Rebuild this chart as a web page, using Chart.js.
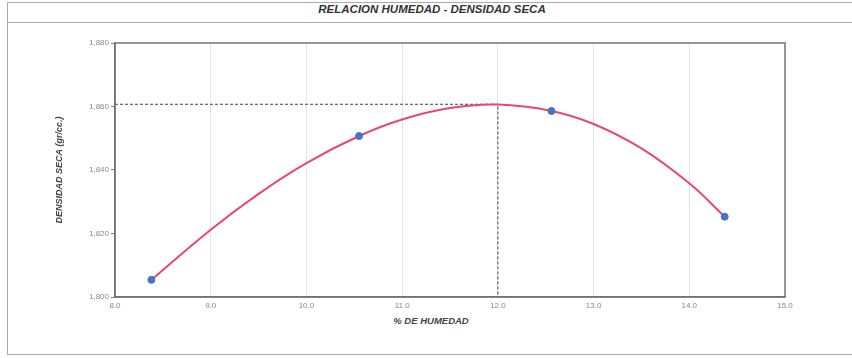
<!DOCTYPE html>
<html>
<head>
<meta charset="utf-8">
<script src="https://cdn.jsdelivr.net/npm/chart.js@4"></script>
<style>
  body { margin: 0; background: #fff; }
  #wrap { position: relative; width: 852px; height: 358px; overflow: hidden; }
  #marco { position: absolute; left: 7px; top: 2px; width: 860px; height: 351px;
           border-left: 1.5px solid #aaa; border-top: 1.5px solid #aaa; border-bottom: 1.5px solid #aaa; }
  #cabecera { position: absolute; left: 0; top: 0; width: 100%; height: 19px; border-bottom: 1.5px solid #aaa; }
  #titulo { position: absolute; left: 0; top: 3px; width: 864px; text-align: center;
            font: italic bold 11.5px "Liberation Sans", Arial, sans-serif; color: #333; }
  #tituloX { position: absolute; left: 0; top: 315px; width: 862px; text-align: center;
             font: italic bold 9.5px "Liberation Sans", Arial, sans-serif; color: #444; }
  canvas { position: absolute; left: 0; top: 0; }
</style>
</head>
<body>
<div id="wrap">
  <div id="marco"><div id="cabecera"></div></div>
  <div id="titulo">RELACION HUMEDAD - DENSIDAD SECA</div>
  <div id="tituloX">% DE HUMEDAD</div>
  <canvas id="grafico" width="852" height="358"></canvas>
</div>
<script>
// ensayos: % de humedad y densidad seca (gr/cc)
const humedad = [8.38, 10.55, 12.56, 14.37];
const densidad = [1.8054, 1.8507, 1.8586, 1.8253];

// curva de compactacion (lecturas a lo largo de la curva)
const curvaHumedad = [8.38, 9.0, 9.5, 10.0, 10.55, 11.0, 11.5, 12.0, 12.56, 13.0, 13.5, 14.0, 14.37];
const curvaDensidad = [1.8054, 1.8212, 1.8325, 1.8422, 1.8507, 1.8559, 1.8595, 1.8606, 1.8586, 1.8545, 1.8468, 1.8358, 1.8253];

// optimo contenido de humedad y maxima densidad seca
const humedadOptima = 12.0;
const densidadMaxima = 1.8607;

const ticksX = [8.0, 9.0, 10.0, 11.0, 12.0, 13.0, 14.0, 15.0];
const ticksY = [1.800, 1.820, 1.840, 1.860, 1.880];

const puntos = humedad.map((h, i) => ({ x: h, y: densidad[i] }));
const curva = curvaHumedad.map((h, i) => ({ x: h, y: curvaDensidad[i] }));

const guias = [
  { x: ticksX[0], y: densidadMaxima },
  { x: humedadOptima, y: densidadMaxima },
  { x: humedadOptima, y: ticksY[0] }
];

const marcoArea = {
  id: 'marcoArea',
  afterDraw(chart) {
    const { ctx, chartArea: a } = chart;
    ctx.save();
    ctx.strokeStyle = '#777';
    ctx.lineWidth = 1.5;
    ctx.strokeRect(a.left, a.top, a.right - a.left, a.bottom - a.top);
    ctx.restore();
  }
};

new Chart(document.getElementById('grafico'), {
  type: 'scatter',
  data: {
    datasets: [
      {
        label: 'Ensayos',
        data: puntos,
        backgroundColor: '#4a72c0',
        borderColor: '#4a72c0',
        pointRadius: 3.5,
        showLine: false,
        order: 0
      },
      {
        label: 'Curva',
        data: curva,
        showLine: true,
        borderColor: '#e8486e',
        borderWidth: 2,
        pointRadius: 0,
        tension: 0.4,
        order: 1
      },
      {
        label: 'Maximo',
        data: guias,
        showLine: true,
        borderColor: '#444',
        borderWidth: 1,
        borderDash: [3, 2],
        pointRadius: 0,
        order: 2
      }
    ]
  },
  options: {
    responsive: false,
    animation: false,
    layout: { padding: { left: 48, right: 67, top: 43, bottom: 41 } },
    plugins: { legend: { display: false }, tooltip: { enabled: false } },
    scales: {
      x: {
        type: 'linear',
        min: 8, max: 15,
        afterBuildTicks: s => { s.ticks = ticksX.map(v => ({ value: v })); },
        afterFit: s => { s.height = 20; },
        grid: { color: '#e6e6e6', drawTicks: false },
        border: { color: '#666', width: 1.5 },
        ticks: { color: '#888', padding: 4, font: { family: 'Liberation Sans', size: 8 },
                 callback: v => v.toFixed(1) }
      },
      y: {
        min: 1.8, max: 1.88,
        afterBuildTicks: s => { s.ticks = ticksY.map(v => ({ value: v })); },
        afterFit: s => { s.width = 67; },
        grid: { drawOnChartArea: false, drawTicks: true, tickLength: 4, color: '#888' },
        border: { color: '#666', width: 1.5 },
        ticks: { color: '#888', padding: 2, font: { family: 'Liberation Sans', size: 8 },
                 callback: v => v.toFixed(3).replace('.', ',') },
        title: {
          display: true,
          text: 'DENSIDAD SECA (gr/cc.)',
          color: '#444',
          padding: { top: 6, bottom: 0 },
          font: { family: 'Liberation Sans', size: 9, style: 'italic', weight: 'bold' }
        }
      }
    }
  },
  plugins: [marcoArea]
});
</script>
</body>
</html>
